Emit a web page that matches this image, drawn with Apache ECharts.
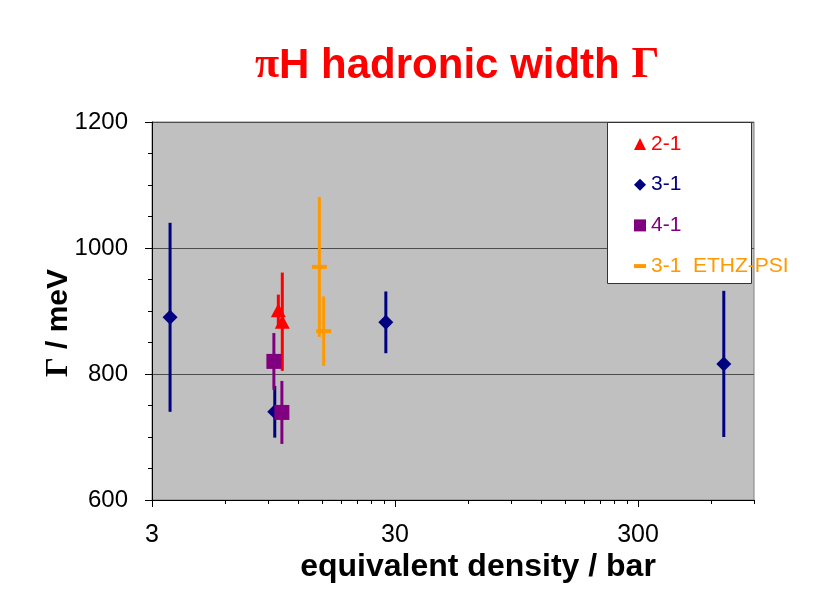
<!DOCTYPE html>
<html>
<head>
<meta charset="utf-8">
<script src="https://cdn.jsdelivr.net/npm/echarts@6/dist/echarts.min.js"></script>
<style>
  html, body { margin: 0; padding: 0; background: #fff; }
  #chart { width: 833px; height: 616px; }
</style>
</head>
<body>
<div id="chart"></div>
<script>
// Hadronic width of pionic hydrogen vs. equivalent target density
const seriesNames = ['2-1', '3-1', '4-1', '3-1  ETHZ-PSI'];

const density21 = [9.93, 10.31];
const width21 = [901, 883];
const err21 = [25, 78];

const density31 = [3.56, 9.6, 27.5, 676];
const width31 = [890, 740, 882, 816];
const err31 = [150, 41, 49, 116];

const density41 = [9.52, 10.27];
const width41 = [820, 739];
const err41 = [45, 50];

const densityPsi = [14.65, 15.26];
const widthPsi = [970, 868];
const errPsi = [111, 55];

const xTickLabels = [3, 30, 300];
const xMinorTicks = [6, 9, 12, 15, 18, 21, 24, 27, 60, 90, 120, 150, 180, 210, 240, 270, 600, 900];
const yTickLabels = [600, 800, 1000, 1200];

const FONT = "'Liberation Sans', Arial, sans-serif";
const SERIF = "'Liberation Serif', 'Times New Roman', serif";
const COLORS = ['#FF0000', '#000080', '#800080', '#FF9900'];

function points(xs, ys) {
  return xs.map((x, i) => [x, ys[i]]);
}

// vertical error bars without caps
function errorBars(name, xs, ys, es, color, lw) {
  return {
    type: 'custom',
    name: name,
    z: 2,
    silent: true,
    data: xs.map((x, i) => [x, ys[i], es[i]]),
    encode: { x: 0, y: 1 },
    renderItem: function (params, api) {
      const x = api.value(0), y = api.value(1), e = api.value(2);
      const a = api.coord([x, y + e]);
      const b = api.coord([x, y - e]);
      return {
        type: 'line',
        shape: { x1: a[0], y1: a[1], x2: b[0], y2: b[1] },
        style: { stroke: color, lineWidth: lw }
      };
    }
  };
}

function markers(name, xs, ys, symbol, size, color) {
  return {
    type: 'scatter',
    name: name,
    z: 3,
    symbol: symbol,
    symbolSize: size,
    itemStyle: { color: color, opacity: 1 },
    emphasis: { disabled: true },
    data: points(xs, ys)
  };
}

const chart = echarts.init(document.getElementById('chart'), null, { renderer: 'canvas' });

chart.setOption({
  animation: false,
  backgroundColor: '#ffffff',
  title: {
    text: '{s|π}H hadronic width {s|Γ}',
    left: 250,
    top: 39,
    textStyle: {
      fontFamily: FONT,
      fontSize: 42,
      fontWeight: 'bold',
      color: '#FF0000',
      rich: {
        s: { fontFamily: SERIF, fontSize: 44, fontWeight: 'bold', color: '#FF0000' }
      }
    }
  },
  grid: {
    left: 152, top: 122, right: 79, bottom: 116,
    show: true,
    backgroundColor: '#C0C0C0',
    borderColor: '#808080',
    borderWidth: 1
  },
  graphic: [{
    type: 'rect',
    z: 6,
    shape: { x: 607.5, y: 122.5, width: 144, height: 161 },
    style: { fill: '#ffffff', stroke: '#333333', lineWidth: 1 }
  }],
  legend: {
    orient: 'vertical',
    left: 629,
    top: 127,
    z: 10,
    itemWidth: 12,
    itemHeight: 12,
    itemGap: 16.7,
    selectedMode: false,
    textStyle: { fontFamily: FONT, fontSize: 21, lineHeight: 24 },
    data: [
      { name: seriesNames[0], icon: 'triangle', itemStyle: { color: COLORS[0] }, textStyle: { color: COLORS[0] } },
      { name: seriesNames[1], icon: 'diamond', itemStyle: { color: COLORS[1] }, textStyle: { color: COLORS[1] } },
      { name: seriesNames[2], icon: 'rect', itemStyle: { color: COLORS[2] }, textStyle: { color: COLORS[2] } },
      { name: seriesNames[3], icon: 'path://M0,0H12V4H0Z', itemStyle: { color: COLORS[3] }, textStyle: { color: COLORS[3] } }
    ]
  },
  xAxis: [{
    type: 'log',
    logBase: 10,
    min: 3,
    max: 900,
    position: 'bottom',
    axisLine: { show: true, onZero: false, lineStyle: { color: '#000', width: 1 } },
    axisTick: { show: true, customValues: xTickLabels, length: 7, lineStyle: { color: '#000' } },
    axisLabel: {
      customValues: xTickLabels,
      formatter: v => String(Math.round(v)),
      fontFamily: FONT, fontSize: 25, color: '#000', margin: 23
    },
    splitLine: { show: false },
    minorTick: { show: false },
    name: 'equivalent density / bar',
    nameLocation: 'middle',
    nameGap: 51,
    nameMoveOverlap: false,
    nameTextStyle: { fontFamily: FONT, fontSize: 32, fontWeight: 'bold', color: '#000', padding: [0, 0, 0, 50] }
  }, {
    type: 'log',
    logBase: 10,
    min: 3,
    max: 900,
    position: 'bottom',
    axisLine: { show: false },
    axisTick: { show: true, customValues: xMinorTicks, length: 4, lineStyle: { color: '#000' } },
    axisLabel: { show: false },
    splitLine: { show: false }
  }],
  yAxis: {
    type: 'value',
    min: 600,
    max: 1200,
    interval: 200,
    axisLine: { show: true, lineStyle: { color: '#000', width: 1 } },
    axisTick: { show: true, length: 7, lineStyle: { color: '#000' } },
    minorTick: { show: true, splitNumber: 4, length: 4, lineStyle: { color: '#000' } },
    splitLine: { show: true, lineStyle: { color: '#4d4d4d', width: 1 } },
    axisLabel: {
      customValues: yTickLabels,
      formatter: v => String(v),
      fontFamily: FONT, fontSize: 24, color: '#000', margin: 24
    },
    name: '{g|Γ} / meV',
    nameLocation: 'middle',
    nameGap: 78,
    nameMoveOverlap: false,
    nameTextStyle: {
      fontFamily: FONT, fontSize: 30, fontWeight: 'bold', color: '#000',
      padding: [0, 24, 0, 0],
      rich: { g: { fontFamily: SERIF, fontSize: 31, fontWeight: 'bold', color: '#000' } }
    }
  },
  series: [
    errorBars(seriesNames[0], density21, width21, err21, COLORS[0], 3),
    errorBars(seriesNames[1], density31, width31, err31, COLORS[1], 3),
    errorBars(seriesNames[2], density41, width41, err41, COLORS[2], 3),
    errorBars(seriesNames[3], densityPsi, widthPsi, errPsi, COLORS[3], 3),
    markers(seriesNames[0], density21, width21, 'triangle', [15, 14], COLORS[0]),
    markers(seriesNames[1], density31, width31, 'diamond', [15, 15], COLORS[1]),
    markers(seriesNames[2], density41, width41, 'rect', [15, 15], COLORS[2]),
    markers(seriesNames[3], densityPsi, widthPsi, 'rect', [15, 4], COLORS[3])
  ]
});
</script>
</body>
</html>
